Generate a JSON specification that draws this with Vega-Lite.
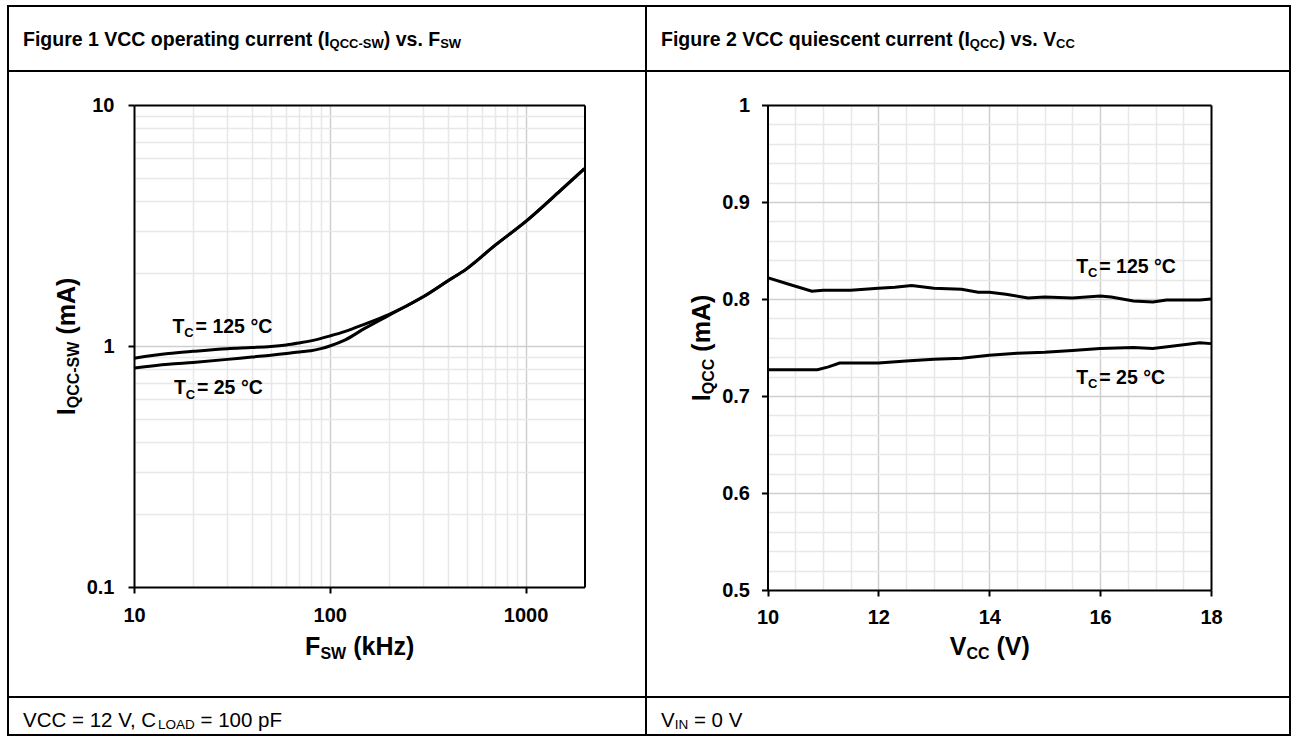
{
  "$schema": "https://vega.github.io/schema/vega-lite/v6.json",
  "background": "white",
  "padding": {"left": 7, "top": 5, "right": 0, "bottom": 0},
  "datasets": {
    "fsw": [
      {"T": "125", "F": 10, "I": 0.89}, {"T": "125", "F": 15, "I": 0.93}, {"T": "125", "F": 20, "I": 0.95},
      {"T": "125", "F": 30, "I": 0.975}, {"T": "125", "F": 40, "I": 0.985}, {"T": "125", "F": 50, "I": 0.995},
      {"T": "125", "F": 60, "I": 1.01}, {"T": "125", "F": 70, "I": 1.03}, {"T": "125", "F": 80, "I": 1.05},
      {"T": "125", "F": 100, "I": 1.1}, {"T": "125", "F": 120, "I": 1.15}, {"T": "125", "F": 150, "I": 1.23},
      {"T": "125", "F": 200, "I": 1.35}, {"T": "125", "F": 300, "I": 1.6}, {"T": "125", "F": 400, "I": 1.86},
      {"T": "125", "F": 500, "I": 2.09}, {"T": "125", "F": 700, "I": 2.62}, {"T": "125", "F": 1000, "I": 3.28},
      {"T": "125", "F": 1500, "I": 4.4}, {"T": "125", "F": 2000, "I": 5.45},
      {"T": "25", "F": 10, "I": 0.81}, {"T": "25", "F": 15, "I": 0.84}, {"T": "25", "F": 20, "I": 0.855},
      {"T": "25", "F": 30, "I": 0.88}, {"T": "25", "F": 40, "I": 0.9}, {"T": "25", "F": 50, "I": 0.915},
      {"T": "25", "F": 60, "I": 0.93}, {"T": "25", "F": 70, "I": 0.945}, {"T": "25", "F": 80, "I": 0.955},
      {"T": "25", "F": 90, "I": 0.975}, {"T": "25", "F": 100, "I": 1.0}, {"T": "25", "F": 120, "I": 1.06},
      {"T": "25", "F": 150, "I": 1.18}, {"T": "25", "F": 200, "I": 1.34}, {"T": "25", "F": 300, "I": 1.6},
      {"T": "25", "F": 400, "I": 1.86}, {"T": "25", "F": 500, "I": 2.09}, {"T": "25", "F": 700, "I": 2.62},
      {"T": "25", "F": 1000, "I": 3.28}, {"T": "25", "F": 1500, "I": 4.4}, {"T": "25", "F": 2000, "I": 5.45}
    ],
    "vcc": [
      {"T": "125", "V": 10, "I": 0.822}, {"T": "125", "V": 10.4, "I": 0.815}, {"T": "125", "V": 10.8, "I": 0.808},
      {"T": "125", "V": 11, "I": 0.809}, {"T": "125", "V": 11.5, "I": 0.809}, {"T": "125", "V": 12, "I": 0.811},
      {"T": "125", "V": 12.3, "I": 0.812}, {"T": "125", "V": 12.6, "I": 0.814}, {"T": "125", "V": 13, "I": 0.811},
      {"T": "125", "V": 13.5, "I": 0.81}, {"T": "125", "V": 13.8, "I": 0.807}, {"T": "125", "V": 14, "I": 0.807},
      {"T": "125", "V": 14.3, "I": 0.805}, {"T": "125", "V": 14.7, "I": 0.801}, {"T": "125", "V": 15, "I": 0.802},
      {"T": "125", "V": 15.5, "I": 0.801}, {"T": "125", "V": 16, "I": 0.803}, {"T": "125", "V": 16.2, "I": 0.802},
      {"T": "125", "V": 16.6, "I": 0.798}, {"T": "125", "V": 16.95, "I": 0.797}, {"T": "125", "V": 17.2, "I": 0.799},
      {"T": "125", "V": 17.5, "I": 0.799}, {"T": "125", "V": 17.8, "I": 0.799}, {"T": "125", "V": 18, "I": 0.8},
      {"T": "25", "V": 10, "I": 0.727}, {"T": "25", "V": 10.9, "I": 0.727}, {"T": "25", "V": 11.1, "I": 0.73},
      {"T": "25", "V": 11.3, "I": 0.734}, {"T": "25", "V": 12, "I": 0.734}, {"T": "25", "V": 12.5, "I": 0.736},
      {"T": "25", "V": 13, "I": 0.738}, {"T": "25", "V": 13.5, "I": 0.739}, {"T": "25", "V": 14, "I": 0.742},
      {"T": "25", "V": 14.5, "I": 0.744}, {"T": "25", "V": 15, "I": 0.745}, {"T": "25", "V": 15.5, "I": 0.747},
      {"T": "25", "V": 16, "I": 0.749}, {"T": "25", "V": 16.6, "I": 0.75}, {"T": "25", "V": 16.95, "I": 0.749},
      {"T": "25", "V": 17.25, "I": 0.751}, {"T": "25", "V": 17.8, "I": 0.755}, {"T": "25", "V": 18, "I": 0.754}
    ],
    "ann1": [
      {"x": 15.75, "y": 1.136, "t": "T", "s": "C", "r": "= 125 °C"},
      {"x": 16.0, "y": 0.63, "t": "T", "s": "C", "r": "= 25 °C"}
    ],
    "ann2": [
      {"x": 15.57, "y": 0.8266, "t": "T", "s": "C", "r": "= 125 °C"},
      {"x": 15.57, "y": 0.7128, "t": "T", "s": "C", "r": "= 25 °C"}
    ]
  },
  "columns": 2,
  "spacing": 0,
  "bounds": "flush",
  "concat": [
    {
      "width": 638, "height": 65,
      "data": {"values": [{"a": "Figure 1 VCC operating current (I", "b": "QCC-SW", "c": ") vs. F", "d": "SW"}]},
      "encoding": {"x": {"field": "a", "type": "nominal", "axis": null, "bandPosition": 0, "scale": {"type": "band", "paddingInner": 0, "paddingOuter": 0}}},
      "layer": [
        {"mark": {"type": "text", "align": "left", "baseline": "alphabetic", "fontWeight": "bold", "fontSize": 19.5, "dx": 15, "dy": 7.5, "color": "#000"}, "encoding": {"text": {"field": "a"}}},
        {"mark": {"type": "text", "align": "left", "baseline": "alphabetic", "fontWeight": "bold", "fontSize": 13, "dx": 321.6, "dy": 9.5, "color": "#000"}, "encoding": {"text": {"field": "b"}}},
        {"mark": {"type": "text", "align": "left", "baseline": "alphabetic", "fontWeight": "bold", "fontSize": 19.5, "dx": 375.8, "dy": 7.5, "color": "#000"}, "encoding": {"text": {"field": "c"}}},
        {"mark": {"type": "text", "align": "left", "baseline": "alphabetic", "fontWeight": "bold", "fontSize": 13, "dx": 432.2, "dy": 9.5, "color": "#000"}, "encoding": {"text": {"field": "d"}}}
      ]
    },
    {
      "width": 644, "height": 65,
      "data": {"values": [{"a": "Figure 2 VCC quiescent current (I", "b": "QCC", "c": ") vs. V", "d": "CC"}]},
      "encoding": {"x": {"field": "a", "type": "nominal", "axis": null, "bandPosition": 0, "scale": {"type": "band", "paddingInner": 0, "paddingOuter": 0}}},
      "layer": [
        {"mark": {"type": "text", "align": "left", "baseline": "alphabetic", "fontWeight": "bold", "fontSize": 19.5, "dx": 15, "dy": 7.5, "color": "#000"}, "encoding": {"text": {"field": "a"}}},
        {"mark": {"type": "text", "align": "left", "baseline": "alphabetic", "fontWeight": "bold", "fontSize": 13, "dx": 323.8, "dy": 9.5, "color": "#000"}, "encoding": {"text": {"field": "b"}}},
        {"mark": {"type": "text", "align": "left", "baseline": "alphabetic", "fontWeight": "bold", "fontSize": 19.5, "dx": 352.7, "dy": 7.5, "color": "#000"}, "encoding": {"text": {"field": "c"}}},
        {"mark": {"type": "text", "align": "left", "baseline": "alphabetic", "fontWeight": "bold", "fontSize": 13, "dx": 410.1, "dy": 9.5, "color": "#000"}, "encoding": {"text": {"field": "d"}}}
      ]
    },
    {
      "width": 638, "height": 626,
      "resolve": {"axis": {"x": "independent", "y": "independent"}},
      "layer": [
        {
          "data": {"name": "fsw"},
          "mark": {"type": "line", "color": "#000", "strokeWidth": 3, "interpolate": "monotone"},
          "encoding": {
            "x": {"field": "F", "type": "quantitative", "scale": {"type": "log", "domain": [10, 2000], "range": [126, 576.5]},
                  "axis": {"orient": "bottom", "offset": -110, "values": [10, 100, 1000], "format": "~g", "labelPadding": 12, "labelFlush": false,
                           "title": "F", "titleX": 296.6, "titleY": 67, "titleAlign": "left", "titleBaseline": "alphabetic", "titleAngle": 0}},
            "y": {"field": "I", "type": "quantitative", "scale": {"type": "log", "domain": [0.1, 10], "range": [516, 34]},
                  "axis": {"orient": "left", "offset": -126, "values": [0.1, 1, 10], "format": "~g", "labelPadding": 14,
                           "title": "I", "titleX": -60, "titleY": 343.8, "titleAlign": "left", "titleBaseline": "alphabetic", "titleAngle": -90}},
            "detail": {"field": "T"}
          }
        },
        {
          "data": {"name": "ann1"},
          "mark": {"type": "text", "align": "left", "baseline": "alphabetic", "fontWeight": "bold", "fontSize": 19.5, "color": "#000"},
          "encoding": {
            "x": {"field": "x", "type": "quantitative", "scale": {"type": "log", "domain": [10, 2000], "range": [126, 576.5]},
                  "axis": {"orient": "top", "grid": true, "gridColor": "#e8e8e8", "gridWidth": 1.5, "domain": false, "ticks": false, "labels": false,
                           "values": [20, 30, 40, 50, 60, 70, 80, 90, 200, 300, 400, 500, 600, 700, 800, 900],
                           "title": "SW", "titleFontSize": 16, "titleX": 311.9, "titleY": 587, "titleAlign": "left", "titleBaseline": "alphabetic", "titleAngle": 0}},
            "y": {"field": "y", "type": "quantitative", "scale": {"type": "log", "domain": [0.1, 10], "range": [516, 34]},
                  "axis": {"orient": "left", "grid": true, "gridColor": "#e8e8e8", "gridWidth": 1.5, "domain": false, "ticks": false, "labels": false,
                           "values": [0.2, 0.3, 0.4, 0.5, 0.6, 0.7, 0.8, 0.9, 2, 3, 4, 5, 6, 7, 8, 9],
                           "title": "QCC-SW", "titleFontSize": 16, "titleX": 70, "titleY": 336.8, "titleAlign": "left", "titleBaseline": "alphabetic", "titleAngle": -90}},
            "text": {"field": "t"}
          }
        },
        {
          "data": {"name": "ann1"},
          "mark": {"type": "text", "align": "left", "baseline": "alphabetic", "fontWeight": "bold", "fontSize": 13, "dx": 11.7, "dy": 4.3, "color": "#000"},
          "encoding": {
            "x": {"field": "x", "type": "quantitative", "scale": {"type": "log", "domain": [10, 2000], "range": [126, 576.5]},
                  "axis": {"orient": "top", "grid": true, "gridColor": "#cfcfcf", "gridWidth": 1.5, "domain": false, "ticks": false, "labels": false, "values": [100, 1000],
                           "title": "(kHz)", "titleX": 344.7, "titleY": 583, "titleAlign": "left", "titleBaseline": "alphabetic", "titleAngle": 0}},
            "y": {"field": "y", "type": "quantitative", "scale": {"type": "log", "domain": [0.1, 10], "range": [516, 34]},
                  "axis": {"orient": "left", "grid": true, "gridColor": "#cfcfcf", "gridWidth": 1.5, "domain": false, "ticks": false, "labels": false, "values": [1],
                           "title": "(mA)", "titleX": 66, "titleY": 263.1, "titleAlign": "left", "titleBaseline": "alphabetic", "titleAngle": -90}},
            "text": {"field": "s"}
          }
        },
        {
          "data": {"name": "ann1"},
          "mark": {"type": "text", "align": "left", "baseline": "alphabetic", "fontWeight": "bold", "fontSize": 19.5, "dx": 23, "color": "#000"},
          "encoding": {
            "x": {"field": "x", "type": "quantitative", "scale": {"type": "log", "domain": [10, 2000], "range": [126, 576.5]},
                  "axis": {"orient": "top", "offset": -34, "domain": true, "ticks": false, "labels": false, "title": null, "values": []}},
            "y": {"field": "y", "type": "quantitative", "scale": {"type": "log", "domain": [0.1, 10], "range": [516, 34]},
                  "axis": {"orient": "right", "offset": -61.5, "domain": true, "ticks": false, "labels": false, "title": null, "values": []}},
            "text": {"field": "r"}
          }
        }
      ]
    },
    {
      "width": 644, "height": 626,
      "resolve": {"axis": {"x": "independent", "y": "independent"}},
      "layer": [
        {
          "data": {"name": "vcc"},
          "mark": {"type": "line", "color": "#000", "strokeWidth": 3},
          "encoding": {
            "x": {"field": "V", "type": "quantitative", "scale": {"domain": [10, 18], "range": [121.5, 565], "zero": false},
                  "axis": {"orient": "bottom", "offset": -107, "values": [10, 12, 14, 16, 18], "format": "~g", "labelPadding": 11, "labelFlush": false,
                           "title": "V", "titleX": 303.2, "titleY": 64, "titleAlign": "left", "titleBaseline": "alphabetic", "titleAngle": 0}},
            "y": {"field": "I", "type": "quantitative", "scale": {"domain": [0.5, 1], "range": [519, 34], "zero": false},
                  "axis": {"orient": "left", "offset": -121.5, "values": [0.5, 0.6, 0.7, 0.8, 0.9, 1], "format": "~g", "labelPadding": 12,
                           "title": "I", "titleX": -58.5, "titleY": 329.75, "titleAlign": "left", "titleBaseline": "alphabetic", "titleAngle": -90}},
            "detail": {"field": "T"}
          }
        },
        {
          "data": {"name": "ann2"},
          "mark": {"type": "text", "align": "left", "baseline": "alphabetic", "fontWeight": "bold", "fontSize": 19.5, "color": "#000"},
          "encoding": {
            "x": {"field": "x", "type": "quantitative", "scale": {"domain": [10, 18], "range": [121.5, 565], "zero": false},
                  "axis": {"orient": "top", "grid": true, "gridColor": "#e8e8e8", "gridWidth": 1.5, "domain": false, "ticks": false, "labels": false,
                           "values": [10.5, 11, 11.5, 12.5, 13, 13.5, 14.5, 15, 15.5, 16.5, 17, 17.5],
                           "title": "CC", "titleFontSize": 16, "titleX": 319.9, "titleY": 587, "titleAlign": "left", "titleBaseline": "alphabetic", "titleAngle": 0}},
            "y": {"field": "y", "type": "quantitative", "scale": {"domain": [0.5, 1], "range": [519, 34], "zero": false},
                  "axis": {"orient": "left", "grid": true, "gridColor": "#e8e8e8", "gridWidth": 1.5, "domain": false, "ticks": false, "labels": false,
                           "values": [0.52, 0.54, 0.56, 0.58, 0.62, 0.64, 0.66, 0.68, 0.72, 0.74, 0.76, 0.78, 0.82, 0.84, 0.86, 0.88, 0.92, 0.94, 0.96, 0.98],
                           "title": "QCC", "titleFontSize": 16, "titleX": 67, "titleY": 322.75, "titleAlign": "left", "titleBaseline": "alphabetic", "titleAngle": -90}},
            "text": {"field": "t"}
          }
        },
        {
          "data": {"name": "ann2"},
          "mark": {"type": "text", "align": "left", "baseline": "alphabetic", "fontWeight": "bold", "fontSize": 13, "dx": 11.7, "dy": 4.3, "color": "#000"},
          "encoding": {
            "x": {"field": "x", "type": "quantitative", "scale": {"domain": [10, 18], "range": [121.5, 565], "zero": false},
                  "axis": {"orient": "top", "grid": true, "gridColor": "#cfcfcf", "gridWidth": 1.5, "domain": false, "ticks": false, "labels": false, "values": [12, 14, 16],
                           "title": "(V)", "titleX": 350, "titleY": 583, "titleAlign": "left", "titleBaseline": "alphabetic", "titleAngle": 0}},
            "y": {"field": "y", "type": "quantitative", "scale": {"domain": [0.5, 1], "range": [519, 34], "zero": false},
                  "axis": {"orient": "left", "grid": true, "gridColor": "#cfcfcf", "gridWidth": 1.5, "domain": false, "ticks": false, "labels": false, "values": [0.6, 0.7, 0.8, 0.9],
                           "title": "(mA)", "titleX": 63, "titleY": 280.15, "titleAlign": "left", "titleBaseline": "alphabetic", "titleAngle": -90}},
            "text": {"field": "s"}
          }
        },
        {
          "data": {"name": "ann2"},
          "mark": {"type": "text", "align": "left", "baseline": "alphabetic", "fontWeight": "bold", "fontSize": 19.5, "dx": 23, "color": "#000"},
          "encoding": {
            "x": {"field": "x", "type": "quantitative", "scale": {"domain": [10, 18], "range": [121.5, 565], "zero": false},
                  "axis": {"orient": "top", "offset": -34, "domain": true, "ticks": false, "labels": false, "title": null, "values": []}},
            "y": {"field": "y", "type": "quantitative", "scale": {"domain": [0.5, 1], "range": [519, 34], "zero": false},
                  "axis": {"orient": "right", "offset": -79, "domain": true, "ticks": false, "labels": false, "title": null, "values": []}},
            "text": {"field": "r"}
          }
        }
      ]
    },
    {
      "width": 638, "height": 38,
      "data": {"values": [{"a": "VCC = 12 V, C", "b": "LOAD", "c": "= 100 pF"}]},
      "encoding": {"x": {"field": "a", "type": "nominal", "axis": null, "bandPosition": 0, "scale": {"type": "band", "paddingInner": 0, "paddingOuter": 0}}},
      "layer": [
        {"mark": {"type": "text", "align": "left", "baseline": "alphabetic", "fontSize": 20.5, "dx": 15, "dy": 11, "color": "#000"}, "encoding": {"text": {"field": "a"}}},
        {"mark": {"type": "text", "align": "left", "baseline": "alphabetic", "fontSize": 13.5, "dx": 150, "dy": 12.5, "color": "#000"}, "encoding": {"text": {"field": "b"}}},
        {"mark": {"type": "text", "align": "left", "baseline": "alphabetic", "fontSize": 20.5, "dx": 192.5, "dy": 11, "color": "#000"}, "encoding": {"text": {"field": "c"}}}
      ]
    },
    {
      "width": 644, "height": 38,
      "data": {"values": [{"a": "V", "b": "IN", "c": "= 0 V"}]},
      "encoding": {"x": {"field": "a", "type": "nominal", "axis": null, "bandPosition": 0, "scale": {"type": "band", "paddingInner": 0, "paddingOuter": 0}}},
      "layer": [
        {"mark": {"type": "text", "align": "left", "baseline": "alphabetic", "fontSize": 20.5, "dx": 15, "dy": 11, "color": "#000"}, "encoding": {"text": {"field": "a"}}},
        {"mark": {"type": "text", "align": "left", "baseline": "alphabetic", "fontSize": 13.5, "dx": 28.7, "dy": 12.5, "color": "#000"}, "encoding": {"text": {"field": "b"}}},
        {"mark": {"type": "text", "align": "left", "baseline": "alphabetic", "fontSize": 20.5, "dx": 47.9, "dy": 11, "color": "#000"}, "encoding": {"text": {"field": "c"}}}
      ]
    }
  ],
  "config": {
    "view": {"stroke": "#000", "strokeWidth": 2},
    "font": "Liberation Sans",
    "text": {"font": "Liberation Sans"},
    "axis": {
      "labelFont": "Liberation Sans", "titleFont": "Liberation Sans",
      "labelFontWeight": "bold", "labelFontSize": 20, "labelColor": "#000",
      "titleFontWeight": "bold", "titleFontSize": 25, "titleColor": "#000",
      "domainColor": "#000", "domainWidth": 2, "tickColor": "#000", "tickWidth": 2, "tickSize": 6,
      "grid": false
    }
  }
}
